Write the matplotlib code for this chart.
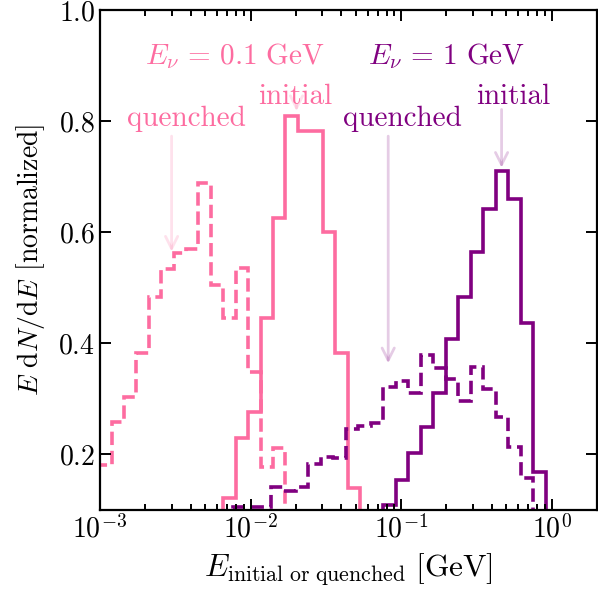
import numpy as np
import matplotlib
matplotlib.use('Agg')
import matplotlib.pyplot as plt

# log10 bin grids (GeV), one per neutrino energy
pink_lo, pink_hi, pink_nbins = -3.006, -1.273, 21
purple_lo, purple_hi, purple_nbins = -2.197, -0.0405, 26

# E dN/dE, normalized; first_bin = index of first filled bin on the grid
quenched_01 = [0.181, 0.258, 0.303, 0.382, 0.483, 0.534, 0.562, 0.570,
               0.689, 0.505, 0.445, 0.535, 0.349, 0.178, 0.211]
quenched_01_first = 0
initial_01 = [0.121, 0.229, 0.277, 0.445, 0.626, 0.809, 0.782, 0.782,
              0.601, 0.382, 0.139]
initial_01_first = 10

quenched_1 = [0.106, 0.106, 0.106, 0.142, 0.134, 0.141, 0.182, 0.196,
              0.194, 0.245, 0.252, 0.256, 0.322, 0.333, 0.310, 0.379,
              0.355, 0.335, 0.297, 0.358, 0.317, 0.267, 0.214, 0.158]
quenched_1_first = 1
initial_1 = [0.109, 0.154, 0.202, 0.250, 0.311, 0.407, 0.484, 0.565,
             0.641, 0.710, 0.659, 0.437, 0.169]
initial_1_first = 13

pink = '#fd6ca0'
purple = '#800080'

plt.rcParams['font.family'] = 'serif'
plt.rcParams['font.serif'] = ['cmr10']
plt.rcParams['mathtext.fontset'] = 'cm'
plt.rcParams['axes.formatter.use_mathtext'] = True
plt.rcParams['font.size'] = 20

pink_edges = np.logspace(pink_lo, pink_hi, pink_nbins + 1)
purple_edges = np.logspace(purple_lo, purple_hi, purple_nbins + 1)


def edges_for(edges, first, vals):
    return edges[first:first + len(vals) + 1]


fig = plt.figure(figsize=(5.98, 5.97), dpi=100)
ax = fig.add_axes([0.1672, 0.1457, 0.8311, 0.8375])
lw = 2.6
ax.stairs(initial_01, edges_for(pink_edges, initial_01_first, initial_01),
          color=pink, lw=lw)
ax.stairs(quenched_01, edges_for(pink_edges, quenched_01_first, quenched_01),
          color=pink, lw=lw, ls='--')
ax.stairs(initial_1, edges_for(purple_edges, initial_1_first, initial_1),
          color=purple, lw=lw)
ax.stairs(quenched_1, edges_for(purple_edges, quenched_1_first, quenched_1),
          color=purple, lw=lw, ls='--')

ax.set_xscale('log')
ax.set_xlim(1e-3, 2)
ax.set_ylim(0.1, 1.0)
ax.set_yticks([0.2, 0.4, 0.6, 0.8, 1.0])
ax.tick_params(which='both', direction='in', top=True, right=True, width=1.4)
ax.tick_params(which='major', length=8)
ax.tick_params(which='minor', length=4)
for s in ax.spines.values():
    s.set_linewidth(1.6)

ax.set_xlabel(r'$E_{\rm initial\ or\ quenched}\ [\rm GeV]$', fontsize=22.5,
              labelpad=6)
ax.set_ylabel(r'$E\ \mathrm{d}N/\mathrm{d}E$ [normalized]', labelpad=8)

# labels and arrows
ax.text(0.00788, 0.902, r'$E_\nu\,=\,0.1~\mathrm{GeV}$', color=pink,
        ha='center', fontsize=21)
ax.text(0.2014, 0.902, r'$E_\nu\,=\,1~\mathrm{GeV}$', color=purple,
        ha='center', fontsize=21)

arrow = dict(arrowstyle='->', lw=2, mutation_scale=22, shrinkA=0, shrinkB=0)
ax.text(0.0199, 0.830, 'initial', color=pink, ha='center', fontsize=21)
ax.annotate('', xy=(0.0202, 0.818), xytext=(0.0202, 0.830),
            arrowprops=dict(arrow, color=pink, alpha=0.2))
ax.text(0.00378, 0.791, 'quenched', color=pink, ha='center', fontsize=21)
ax.annotate('', xy=(0.00299, 0.565), xytext=(0.00299, 0.773),
            arrowprops=dict(arrow, color=pink, alpha=0.2))
ax.text(0.1028, 0.791, 'quenched', color=purple, ha='center', fontsize=21)
ax.annotate('', xy=(0.0821, 0.364), xytext=(0.0821, 0.773),
            arrowprops=dict(arrow, color=purple, alpha=0.2))
ax.text(0.5526, 0.830, 'initial', color=purple, ha='center', fontsize=21)
ax.annotate('', xy=(0.4649, 0.716), xytext=(0.4649, 0.821),
            arrowprops=dict(arrow, color=purple, alpha=0.2))

fig.savefig('out.png', dpi=100)
